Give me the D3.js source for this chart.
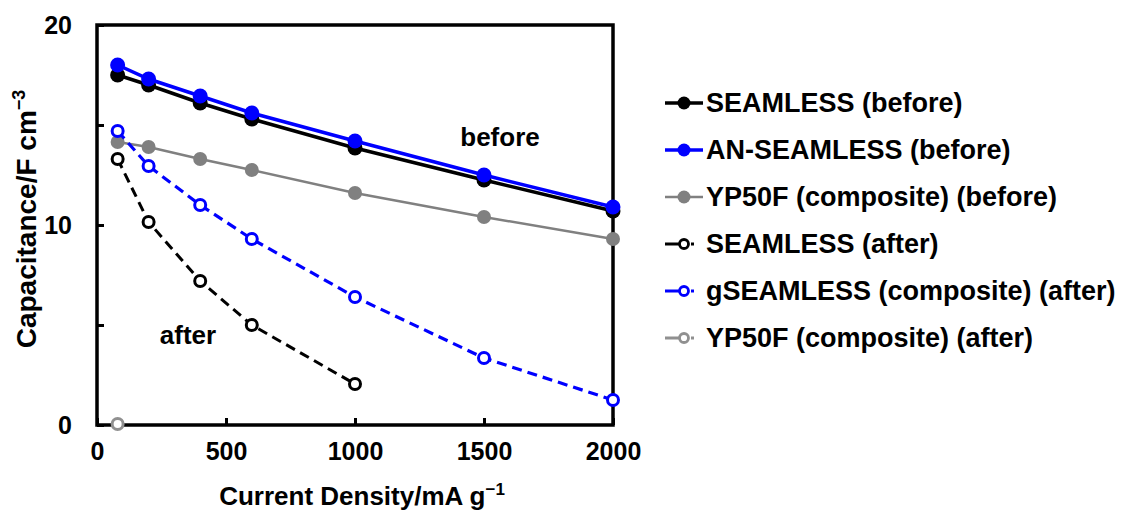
<!DOCTYPE html>
<html>
<head>
<meta charset="utf-8">
<script src="https://cdn.jsdelivr.net/npm/d3@7"></script>
<style>
  body { margin: 0; background: #fff; }
  svg { font-family: "Liberation Sans", Arial, sans-serif; font-weight: bold; }
</style>
</head>
<body>
<svg id="chart" width="1126" height="512"></svg>
<script>
// data
var currentDensity = [80, 200, 400, 600, 1000, 1500, 2000];
var seamlessBefore = [17.5, 17.0, 16.1, 15.3, 13.85, 12.25, 10.7];
var anSeamlessBefore = [18.0, 17.3, 16.45, 15.6, 14.2, 12.5, 10.9];
var yp50fBefore = [14.15, 13.9, 13.3, 12.75, 11.6, 10.4, 9.3];
var seamlessAfter = [13.3, 10.15, 7.2, 5.0, 2.05];
var gSeamlessAfter = [14.7, 12.95, 11.0, 9.3, 6.4, 3.35, 1.25];
var yp50fAfter = [0.05];

var yTicks = [0, 5, 10, 15, 20];
var xTicks = [0, 500, 1000, 1500, 2000];

var series = [
    { name: "SEAMLESS (before)", values: seamlessBefore, color: "#000000", filled: true, dashed: false, width: 3.5 },
    { name: "AN-SEAMLESS (before)", values: anSeamlessBefore, color: "#0000ff", filled: true, dashed: false, width: 3.5 },
    { name: "YP50F (composite) (before)", values: yp50fBefore, color: "#808080", filled: true, dashed: false, width: 2.5 },
    { name: "SEAMLESS (after)", values: seamlessAfter, color: "#000000", filled: false, dashed: true, width: 3 },
    { name: "gSEAMLESS (composite) (after)", values: gSeamlessAfter, color: "#0000ff", filled: false, dashed: true, width: 3.2 },
    { name: "YP50F (composite) (after)", values: yp50fAfter, color: "#909090", filled: false, dashed: true, width: 3 }
];

var plotLeft = 97, plotRight = 613, plotTop = 25, plotBottom = 425;

var x = d3.scaleLinear().domain([0, 2000]).range([plotLeft, plotRight]);
var y = d3.scaleLinear().domain([0, 20]).range([plotBottom, plotTop]);

var svg = d3.select("#chart");

// axes, ticks pointing inward
var xAxis = svg.append("g")
    .attr("transform", "translate(0," + plotBottom + ")")
    .call(d3.axisBottom(x).tickValues(xTicks).tickSize(-7).tickPadding(22).tickFormat(d3.format("d")));
var yAxis = svg.append("g")
    .attr("transform", "translate(" + plotLeft + ",0)")
    .call(d3.axisLeft(y).tickValues(yTicks).tickSize(-7).tickPadding(25)
        .tickFormat(function(d) { return d % 10 === 0 ? d : ""; }));

[xAxis, yAxis].forEach(function(a) {
    a.select(".domain").remove();
    a.selectAll("line").attr("stroke", "#000").attr("stroke-width", 3);
    a.selectAll("text")
        .attr("fill", "#000")
        .style("font-size", "25px")
        .style("font-weight", "bold")
        .style("font-family", "'Liberation Sans', Arial, sans-serif");
});
xAxis.selectAll("text").attr("dy", "0.5em");

// plot frame
svg.append("rect")
    .attr("x", plotLeft).attr("y", plotTop)
    .attr("width", plotRight - plotLeft).attr("height", plotBottom - plotTop)
    .attr("fill", "none").attr("stroke", "#000").attr("stroke-width", 3.5);

var line = d3.line()
    .x(function(d) { return x(d.x); })
    .y(function(d) { return y(d.y); });

series.forEach(function(s) {
    var pts = s.values.map(function(v, i) { return { x: currentDensity[i], y: v }; });
    var g = svg.append("g");
    g.append("path")
        .attr("d", line(pts))
        .attr("fill", "none")
        .attr("stroke", s.color)
        .attr("stroke-width", s.width)
        .attr("stroke-dasharray", s.dashed ? "10,6" : null);
    g.selectAll("circle")
        .data(pts)
        .join("circle")
        .attr("cx", function(d) { return x(d.x); })
        .attr("cy", function(d) { return y(d.y); })
        .attr("r", s.filled ? (s.width > 3 ? 7.5 : 7) : 5.5)
        .attr("fill", s.filled ? s.color : "#fff")
        .attr("stroke", s.color)
        .attr("stroke-width", s.filled ? 0 : 3);
});

// in-plot annotations
svg.append("text").attr("x", 500).attr("y", 146)
    .attr("text-anchor", "middle").style("font-size", "26px").text("before");
svg.append("text").attr("x", 188).attr("y", 344)
    .attr("text-anchor", "middle").style("font-size", "26px").text("after");

// axis titles
var xt = svg.append("text").attr("x", 362).attr("y", 505)
    .attr("text-anchor", "middle").style("font-size", "26px");
xt.append("tspan").text("Current Density/mA g");
xt.append("tspan").attr("dy", -10).style("font-size", "17px").text("\u22121");

var yt = svg.append("text")
    .attr("transform", "translate(36,219) rotate(-90)")
    .attr("text-anchor", "middle").style("font-size", "28px");
yt.append("tspan").text("Capacitance/F cm");
yt.append("tspan").attr("dy", -11).style("font-size", "18px").text("\u22123");

// legend
var legend = svg.append("g");
series.forEach(function(s, i) {
    var ly = 103 + i * 47;
    var row = legend.append("g").attr("transform", "translate(0," + ly + ")");
    row.append("line")
        .attr("x1", 665).attr("x2", 703)
        .attr("stroke", s.color).attr("stroke-width", s.width)
        .attr("stroke-dasharray", s.dashed ? "14,12,3,20" : null);
    row.append("circle")
        .attr("cx", 684).attr("cy", 0)
        .attr("r", s.filled ? 6.5 : 4.5)
        .attr("fill", s.filled ? s.color : "#fff")
        .attr("stroke", s.color)
        .attr("stroke-width", s.filled ? 0 : 2.8);
    row.append("text")
        .attr("x", 706).attr("y", 0).attr("dy", "0.35em")
        .style("font-size", "27px")
        .attr("fill", "#000")
        .text(s.name);
});
</script>
</body>
</html>
